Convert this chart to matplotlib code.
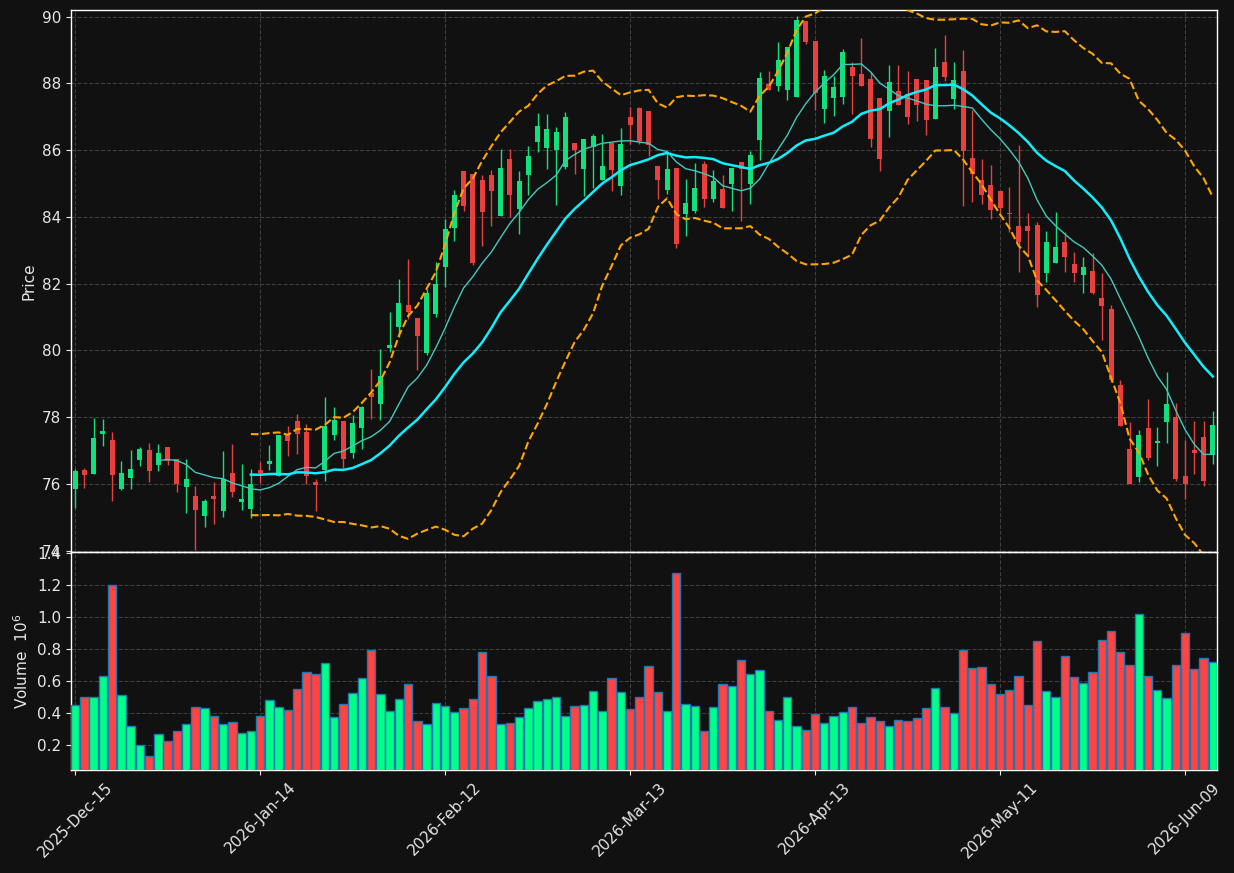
"""
Candlestick chart with 10/20 moving averages, 20-period Bollinger bands
and a volume panel underneath (dark theme).
"""

import numpy as np
import pandas as pd
import matplotlib
matplotlib.use("Agg")
import matplotlib.pyplot as plt

# OHLC values (one trading day per entry)
opens = [75.84, 76.43, 76.29, 77.51, 77.31, 75.84, 76.17, 76.72, 77.01, 76.56,
         77.10, 76.74, 75.90, 75.65, 75.05, 75.65, 75.20, 76.34, 75.47, 75.26,
         76.41, 76.60, 76.24, 77.49, 77.88, 77.55, 76.05, 76.41, 77.46, 77.88,
         76.93, 77.68, 78.71, 78.40, 80.07, 80.70, 81.35, 80.96, 79.93, 81.10,
         82.50, 83.67, 85.37, 85.30, 85.10, 85.25, 84.03, 85.73, 84.24, 85.26,
         86.25, 86.07, 86.01, 85.50, 86.21, 85.44, 86.10, 85.10, 86.21, 84.92,
         86.99, 87.26, 87.18, 85.54, 84.80, 85.47, 84.09, 84.18, 85.60, 84.55,
         84.83, 85.00, 85.65, 85.00, 86.32, 87.99, 87.93, 87.81, 87.58, 89.87,
         89.27, 87.23, 87.57, 87.58, 88.50, 88.29, 88.14, 87.57, 87.16, 87.78,
         87.68, 88.13, 88.11, 86.93, 88.63, 87.53, 88.38, 85.78, 85.12, 84.95,
         84.77, 84.13, 83.73, 83.73, 83.76, 82.33, 82.63, 83.25, 82.59, 82.27,
         82.38, 81.57, 81.23, 78.95, 77.05, 76.20, 77.69, 77.24, 77.85, 78.02,
         76.25, 77.02, 77.42, 76.87]
highs = [76.45, 76.48, 77.97, 77.94, 77.56, 76.68, 77.03, 77.10, 77.22, 77.19,
         77.10, 76.74, 76.74, 75.94, 75.54, 76.06, 76.98, 77.21, 76.59, 76.46,
         76.66, 77.16, 77.46, 77.74, 78.09, 77.79, 76.16, 78.59, 78.29, 77.88,
         78.07, 78.34, 79.44, 80.05, 81.14, 82.15, 82.75, 80.96, 81.85, 82.65,
         83.95, 84.80, 85.37, 85.30, 85.27, 85.40, 86.05, 86.05, 85.37, 86.13,
         87.10, 87.07, 86.71, 87.15, 86.21, 86.33, 86.48, 86.50, 86.21, 86.68,
         87.28, 87.30, 87.18, 85.54, 85.92, 85.47, 85.14, 85.62, 85.67, 85.40,
         85.25, 85.48, 85.65, 85.97, 88.33, 88.36, 89.25, 89.10, 90.02, 89.87,
         89.27, 88.41, 88.23, 89.03, 88.63, 89.35, 88.33, 87.57, 88.55, 88.55,
         88.36, 88.13, 88.11, 89.05, 89.45, 88.64, 89.00, 87.21, 85.74, 85.57,
         84.77, 84.91, 86.16, 84.11, 83.86, 83.58, 84.14, 83.56, 82.94, 82.79,
         82.93, 82.31, 81.36, 79.12, 77.85, 77.62, 78.55, 77.72, 79.35, 78.42,
         77.32, 77.88, 77.88, 78.18]
lows = [75.29, 75.88, 76.29, 77.15, 75.48, 75.81, 75.85, 76.54, 76.06, 76.38,
        76.57, 75.75, 75.14, 74.02, 74.72, 74.81, 75.02, 75.60, 75.23, 74.99,
        76.04, 76.41, 76.24, 76.84, 76.89, 76.01, 75.19, 76.08, 77.33, 76.49,
        76.79, 77.06, 77.96, 77.91, 79.95, 80.40, 80.95, 79.41, 79.85, 81.00,
        81.90, 83.28, 84.18, 82.57, 83.13, 83.73, 84.03, 84.00, 83.50, 84.65,
        85.95, 85.45, 84.35, 85.45, 85.30, 84.62, 84.87, 85.10, 84.77, 84.65,
        86.20, 86.20, 85.82, 84.53, 84.70, 83.08, 83.43, 84.11, 84.31, 84.45,
        84.26, 84.18, 83.88, 84.38, 85.70, 87.81, 87.76, 87.51, 87.58, 89.17,
        87.21, 86.82, 87.01, 87.38, 87.07, 87.93, 86.09, 85.37, 86.40, 87.34,
        86.79, 86.89, 86.47, 86.93, 88.06, 87.23, 84.33, 84.45, 84.38, 83.95,
        84.13, 83.55, 82.34, 82.81, 81.29, 82.06, 82.63, 82.36, 82.04, 81.73,
        81.70, 80.32, 79.05, 77.73, 76.00, 76.05, 76.72, 76.55, 77.22, 76.10,
        75.55, 76.30, 75.95, 76.60]
closes = [76.40, 76.26, 77.37, 77.59, 76.26, 76.34, 76.46, 77.04, 76.38, 76.92,
          76.68, 75.99, 76.16, 75.23, 75.49, 75.54, 76.14, 75.75, 75.56, 76.01,
          76.33, 76.68, 77.46, 77.29, 77.50, 76.24, 75.97, 77.74, 77.91, 76.74,
          77.82, 78.30, 78.61, 79.23, 80.15, 81.41, 81.15, 80.43, 81.73, 82.00,
          83.65, 84.65, 84.32, 82.62, 84.15, 84.78, 85.48, 84.65, 85.07, 85.82,
          86.72, 86.65, 86.54, 86.99, 86.01, 86.33, 86.42, 85.52, 85.41, 86.18,
          86.77, 86.27, 86.17, 85.12, 85.44, 83.18, 84.41, 84.88, 84.55, 85.09,
          84.26, 85.48, 85.44, 85.87, 88.17, 87.81, 88.71, 89.10, 89.90, 89.23,
          87.71, 88.21, 87.89, 88.95, 88.21, 87.93, 86.34, 85.74, 88.05, 87.34,
          86.98, 87.34, 86.90, 88.50, 88.18, 88.11, 85.97, 85.29, 84.66, 84.20,
          84.26, 84.09, 83.26, 83.59, 81.67, 83.25, 83.10, 82.79, 82.33, 82.50,
          81.72, 81.34, 79.10, 77.73, 76.00, 77.48, 76.77, 77.30, 78.40, 76.15,
          76.00, 76.92, 76.08, 77.78]
# volume in millions
volumes = [0.449, 0.499, 0.499, 0.630, 1.200, 0.510, 0.317, 0.198, 0.135, 0.267,
           0.223, 0.286, 0.330, 0.436, 0.429, 0.380, 0.330, 0.342, 0.273, 0.286,
           0.380, 0.480, 0.436, 0.417, 0.549, 0.655, 0.642, 0.712, 0.374, 0.455,
           0.524, 0.618, 0.793, 0.518, 0.411, 0.486, 0.579, 0.348, 0.330, 0.461,
           0.442, 0.405, 0.430, 0.486, 0.780, 0.630, 0.330, 0.336, 0.374, 0.430,
           0.474, 0.486, 0.499, 0.380, 0.442, 0.449, 0.536, 0.411, 0.618, 0.530,
           0.423, 0.499, 0.693, 0.530, 0.411, 1.276, 0.455, 0.442, 0.286, 0.436,
           0.580, 0.568, 0.731, 0.642, 0.668, 0.411, 0.355, 0.499, 0.317, 0.292,
           0.392, 0.336, 0.380, 0.405, 0.436, 0.336, 0.374, 0.348, 0.317, 0.355,
           0.348, 0.367, 0.430, 0.555, 0.436, 0.399, 0.793, 0.680, 0.687, 0.580,
           0.518, 0.543, 0.630, 0.449, 0.850, 0.536, 0.499, 0.756, 0.624, 0.587,
           0.655, 0.856, 0.912, 0.780, 0.699, 1.018, 0.630, 0.543, 0.493, 0.699,
           0.900, 0.674, 0.743, 0.718]

tick_labels = ['2025-Dec-15', '2026-Jan-14', '2026-Feb-12', '2026-Mar-13',
               '2026-Apr-13', '2026-May-11', '2026-Jun-09']
tick_step = 20

BG = '#111111'
UP, DOWN = '#12e07c', '#e8403f'
VUP, VDOWN = '#00ff88', '#ff4444'
TXT = '#e6e6e6'


def style_axis(ax):
    ax.set_facecolor(BG)
    for s in ax.spines.values():
        s.set_color('white')
        s.set_linewidth(1.0)
    ax.tick_params(colors=TXT, labelsize=11)
    ax.grid(True, color='#3e3e3e', linestyle='--', linewidth=0.8)
    ax.set_axisbelow(True)


def main():
    df = pd.DataFrame({'Open': opens, 'High': highs, 'Low': lows,
                       'Close': closes, 'Volume': volumes})
    x = np.arange(len(df))
    up = df['Close'] >= df['Open']

    ma10 = df['Close'].rolling(10).mean()
    ma20 = df['Close'].rolling(20).mean()
    sd20 = df['Close'].rolling(20).std(ddof=0)
    bb_up = ma20 + 2 * sd20
    bb_lo = ma20 - 2 * sd20

    fig = plt.figure(figsize=(12.34, 8.73), dpi=100, facecolor=BG)
    ax = fig.add_axes([0.0575, 0.3677, 0.9287, 0.6208])
    axv = fig.add_axes([0.0575, 0.118, 0.9287, 0.2497], sharex=ax)
    style_axis(ax)
    style_axis(axv)

    # candles
    ccol = np.where(up, UP, DOWN)
    ax.vlines(x, df['Low'], df['High'], colors=ccol, linewidth=1.0, zorder=2)
    body = (df['Close'] - df['Open']).abs().clip(lower=0.04)
    ax.bar(x, body, bottom=df[['Open', 'Close']].min(axis=1), width=0.55,
           color=ccol, linewidth=0, zorder=3)

    # indicators
    ax.plot(x, ma10, color='#45c8bd', linewidth=1.0, zorder=4)
    ax.plot(x, ma20, color='#10eefc', linewidth=1.8, zorder=4)
    ax.plot(x, bb_up, color='#ffa500', linestyle='--', linewidth=1.5, zorder=4)
    ax.plot(x, bb_lo, color='#ffa500', linestyle='--', linewidth=1.5, zorder=4)

    ax.set_ylim(73.96, 90.2)
    ax.set_yticks(np.arange(74, 91, 2))
    ax.set_ylabel('Price', color=TXT, fontsize=11)
    ax.tick_params(axis='x', labelbottom=False, length=0)

    # volume
    vcol = np.where(up, VUP, VDOWN)
    axv.bar(x, df['Volume'], width=0.9, color=vcol, edgecolor='#1f77b4',
            linewidth=1.0, zorder=3)
    axv.set_ylim(0.045, 1.405)
    axv.set_yticks(np.arange(0.2, 1.41, 0.2))
    axv.set_yticklabels([f'{v:.1f}' for v in np.arange(0.2, 1.41, 0.2)])
    axv.set_ylabel('Volume  $10^{6}$', color=TXT, fontsize=11)

    ticks = np.arange(0, len(tick_labels) * tick_step, tick_step)
    axv.set_xticks(ticks)
    axv.set_xticklabels(tick_labels, rotation=45, ha='center')
    axv.set_xlim(-0.45, len(df) - 0.55)

    fig.savefig('out.png', dpi=100, facecolor=BG)
    plt.close(fig)


if __name__ == "__main__":
    main()
